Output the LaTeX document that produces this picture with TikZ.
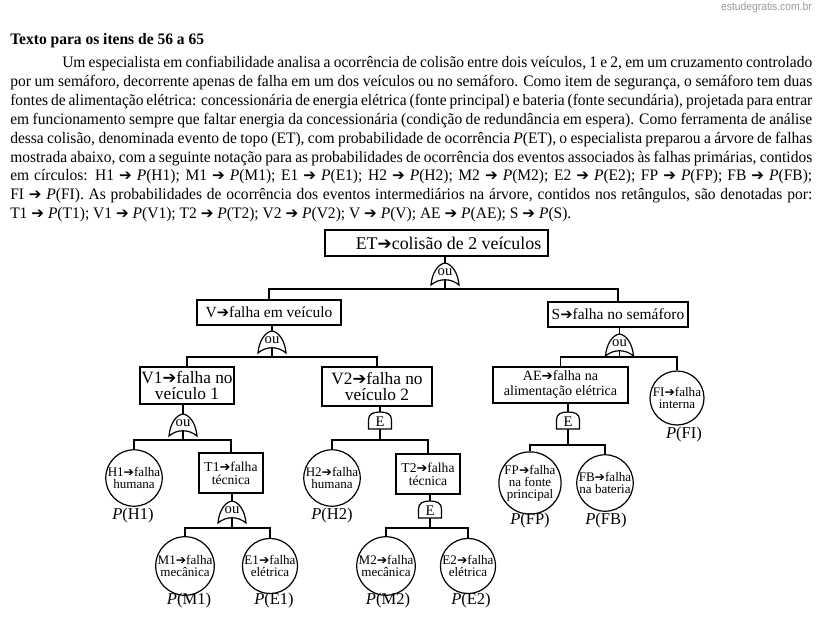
\documentclass[tikz,border=0pt]{standalone}
\usepackage{fontspec}
\setmainfont{Liberation Serif}
\newfontfamily\parafont[FakeStretch=0.97]{Liberation Serif}
\newfontfamily\symfont{DejaVu Sans}
\newfontfamily\hdrfont[FakeStretch=0.9]{Liberation Sans}
\definecolor{hdrgray}{HTML}{9A9A9A}
\newcommand{\myarr}{\scalebox{0.95}{\symfont ➔}}
\newcommand{\probP}[1]{\textit{P}(#1)}
\newcommand{\etfont}{\fontsize{13.4}{15}\selectfont}
\newcommand{\vsfont}{\fontsize{11.6}{13}\selectfont}
\newcommand{\vvfont}{\fontsize{13}{12}\selectfont}
\newcommand{\aefont}{\fontsize{10.6}{11.25}\selectfont}
\newcommand{\tfont}{\fontsize{10.2}{9.5}\selectfont}
\newcommand{\circfont}{\fontsize{9.8}{9}\selectfont}
\newcommand{\plabfont}{\fontsize{12.4}{14}\selectfont}
\newcommand{\gatefont}{\fontsize{11}{12}\selectfont}
\newcommand{\parasize}{\parafont\fontsize{12}{14}\selectfont}
\begin{document}
\begin{tikzpicture}[x=0.75pt,y=-0.75pt,
  box/.style={draw, line width=0.9pt, inner sep=0pt, align=center},
  circ/.style={draw, circle, line width=0.9pt, inner sep=0pt, minimum size=40.5pt, align=center, font=\circfont},
  conn/.style={line width=1pt},
  gateshape/.style={draw, line width=0.9pt, fill=white},
  plab/.style={inner sep=0pt, font=\plabfont},
  para/.style={inner sep=0pt, anchor=base west, font=\parasize},
  orgate/.pic={
    \draw[gateshape] (-14,22) .. controls (-13,10) and (-7,1) .. (0,0)
      .. controls (7,1) and (13,10) .. (14,22)
      .. controls (6,15) and (-6,15) .. (-14,22) -- cycle;
    \node[font=\gatefont, inner sep=0pt] at (0,9.5) {ou};
  },
  andgate/.pic={
    \draw[gateshape] (-11.5,17) -- (-11.5,8) .. controls (-11.5,2) and (-7,0) .. (0,0)
      .. controls (7,0) and (11.5,2) .. (11.5,8) -- (11.5,17) -- cycle;
    \node[font=\gatefont, inner sep=0pt] at (0,9.5) {E};
  }
]
\useasboundingbox (0,0) rectangle (818,635);

% header and text
\node[inner sep=0pt, anchor=east, font=\hdrfont\fontsize{8.6}{10}\selectfont, text=hdrgray] (hdr) at (812,8) {estudegratis.com.br};
\node[para, font=\parasize\bfseries] (title) at (10,45) {Texto para os itens de 56 a 65};
\node[para] (p1) at (62,68) {\hbox to 562.5pt{Um especialista em confiabilidade analisa a ocorrência de colisão entre dois veículos, 1 e 2, em um cruzamento controlado}};
\node[para] (p2) at (10,87) {\hbox to 601.5pt{por um semáforo, decorrente apenas de falha em um dos veículos ou no semáforo. Como item de segurança, o semáforo tem duas}};
\node[para] (p3) at (10,106) {\hbox to 601.5pt{fontes de alimentação elétrica: concessionária de energia elétrica (fonte principal) e bateria (fonte secundária), projetada para entrar}};
\node[para] (p4) at (10,124.5) {\hbox to 601.5pt{em funcionamento sempre que faltar energia da concessionária (condição de redundância em espera). Como ferramenta de análise}};
\node[para] (p5) at (10,143) {\hbox to 601.5pt{dessa colisão, denominada evento de topo (ET), com probabilidade de ocorrência \probP{ET}, o especialista preparou a árvore de falhas}};
\node[para] (p6) at (10,162) {\hbox to 601.5pt{mostrada abaixo, com a seguinte notação para as probabilidades de ocorrência dos eventos associados às falhas primárias, contidos}};
\node[para] (p7) at (10,180.5) {\hbox to 601.5pt{em círculos: H1 \myarr{} \probP{H1}; M1 \myarr{} \probP{M1}; E1 \myarr{} \probP{E1}; H2 \myarr{} \probP{H2}; M2 \myarr{} \probP{M2}; E2 \myarr{} \probP{E2}; FP \myarr{} \probP{FP}; FB \myarr{} \probP{FB};}};
\node[para] (p8) at (10,199) {\hbox to 601.5pt{FI \myarr{} \probP{FI}. As probabilidades de ocorrência dos eventos intermediários na árvore, contidos nos retângulos, são denotadas por:}};
\node[para] (p9) at (10,218) {T1 \myarr{} \probP{T1}; V1 \myarr{} \probP{V1}; T2 \myarr{} \probP{T2}; V2 \myarr{} \probP{V2}; V \myarr{} \probP{V}; AE \myarr{} \probP{AE}; S \myarr{} \probP{S}.};

% boxes
\node[box, minimum width=167.25pt, minimum height=19.5pt, font=\etfont] (ET) at (436.5,243) {\hspace*{18pt}ET\myarr colisão de 2 veículos};
\node[box, minimum width=108pt, minimum height=18.75pt, font=\vsfont] (V) at (269,312.5) {V\myarr falha em veículo};
\node[box, minimum width=105pt, minimum height=18.75pt, font=\vsfont] (S) at (618,314.5) {S\myarr falha no semáforo};
\node[box, minimum width=70.5pt, minimum height=27.75pt, font=\vvfont] (V1) at (187,385.5) {V1\myarr falha no\\veículo 1};
\node[box, minimum width=82.5pt, minimum height=29.25pt, font=\vvfont] (V2) at (377,386.5) {V2\myarr falha no\\veículo 2};
\node[box, minimum width=101.25pt, minimum height=27pt, font=\aefont] (AE) at (560.5,385) {AE\myarr falha na\\alimentação elétrica};
\node[box, minimum width=48pt, minimum height=30pt, font=\tfont] (T1) at (231,473) {T1\myarr falha\\técnica};
\node[box, minimum width=48pt, minimum height=30pt, font=\tfont] (T2) at (428,474) {T2\myarr falha\\técnica};

% circles
\node[circ] (H1) at (134,478) {H1\myarr falha\\humana};
\node[circ] (H2) at (332,478) {H2\myarr falha\\humana};
\node[circ] (M1) at (185,566) {M1\myarr falha\\mecânica};
\node[circ] (E1) at (270,566) {E1\myarr falha\\elétrica};
\node[circ] (M2) at (386,566) {M2\myarr falha\\mecânica};
\node[circ] (E2) at (468,566) {E2\myarr falha\\elétrica};
\node[circ, minimum size=42pt] (FP) at (530,483) {FP\myarr falha\\na fonte\\principal};
\node[circ, minimum size=42pt] (FB) at (605,483) {FB\myarr falha\\na bateria};
\node[circ] (FI) at (677,398) {FI\myarr falha\\interna};

% probability labels
\node[plab] (pH1) at (133,516) {\probP{H1}};
\node[plab] (pH2) at (332,516) {\probP{H2}};
\node[plab] (pFP) at (530,521) {\probP{FP}};
\node[plab] (pFB) at (606,521) {\probP{FB}};
\node[plab] (pFI) at (684,435) {\probP{FI}};
\node[plab] (pM1) at (189,601) {\probP{M1}};
\node[plab] (pE1) at (274,601) {\probP{E1}};
\node[plab] (pM2) at (388,601) {\probP{M2}};
\node[plab] (pE2) at (471,601) {\probP{E2}};

% junction coordinates
\coordinate (b1) at (445,289);
\coordinate (b2) at (272,357);
\coordinate (b3) at (619.5,357);
\coordinate (b4) at (183,440);
\coordinate (b5) at (380,440);
\coordinate (b6) at (568,445);
\coordinate (b7) at (232,528);
\coordinate (b8) at (430,528);

% connectors
\draw[conn] (ET.south -| b1) -- (b1);
\draw[conn] (V.north) |- (b1) -| (S.north);
\draw[conn] (V.south -| b2) -- (b2);
\draw[conn] (V1.north) |- (b2) -| (V2.north);
\draw[conn] (S.south -| b3) -- (b3);
\draw[conn] (AE.north) |- (b3) -| (FI.north);
\draw[conn] (V1.south -| b4) -- (b4);
\draw[conn] (H1.north) |- (b4) -| (T1.north);
\draw[conn] (V2.south -| b5) -- (b5);
\draw[conn] (H2.north) |- (b5) -| (T2.north);
\draw[conn] (AE.south -| b6) -- (b6);
\draw[conn] (FP.north) |- (b6) -| (FB.north);
\draw[conn] (T1.south -| b7) -- (b7);
\draw[conn] (M1.north) |- (b7) -| (E1.north);
\draw[conn] (T2.south -| b8) -- (b8);
\draw[conn] (M2.north) |- (b8) -| (E2.north);

% gates
\pic at (445,263) {orgate};
\pic at (272,331) {orgate};
\pic at (619.5,334) {orgate};
\pic at (183,414) {orgate};
\pic at (232,501) {orgate};
\pic at (380,412) {andgate};
\pic at (568,412) {andgate};
\pic at (430,501) {andgate};
\end{tikzpicture}
\end{document}
